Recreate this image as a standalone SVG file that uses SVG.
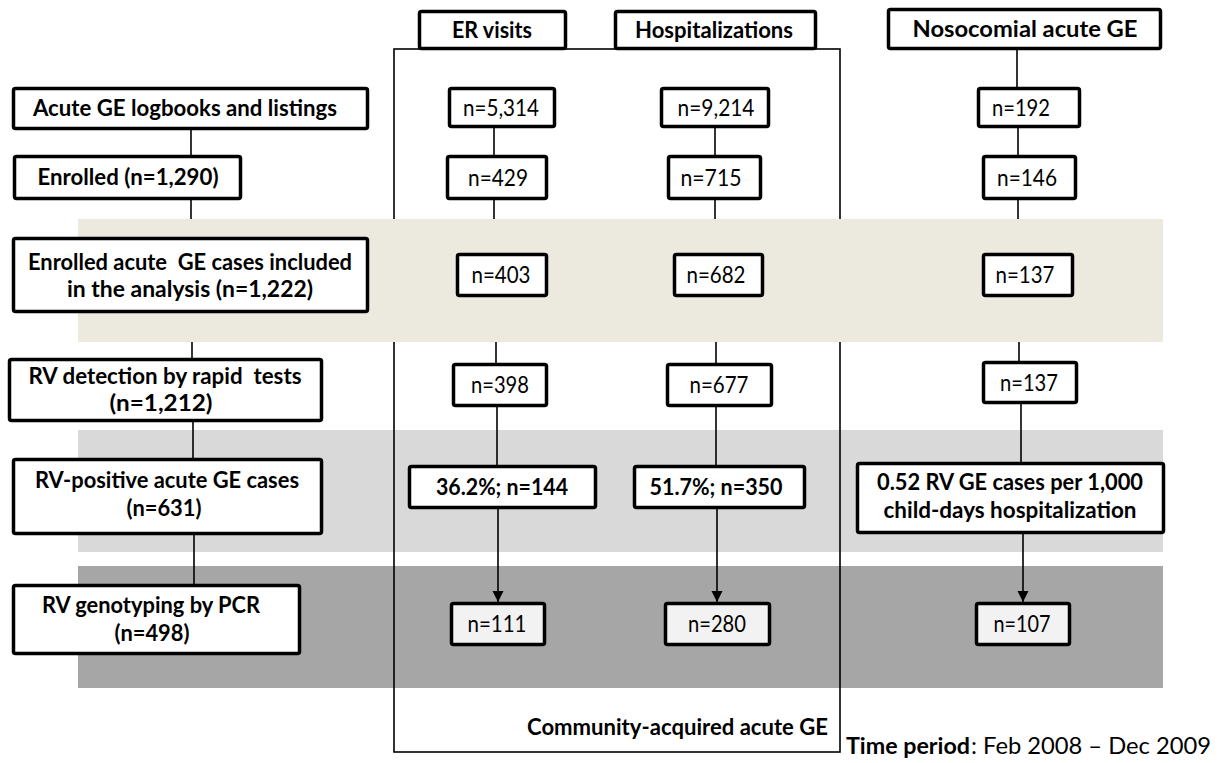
<svg xmlns="http://www.w3.org/2000/svg" width="1220" height="763" viewBox="0 0 1220 763">
<style>
.box{fill:#fff;stroke:#000;stroke-width:3.5}
.boxg{fill:#F2F2F2;stroke:#000;stroke-width:3.5}
.ln{stroke:#000;stroke-width:1.6;fill:none}
.b{font-family:Lato,"Open Sans",sans-serif;font-size:23px;font-weight:bold;fill:#000;text-anchor:middle}
.r{font-family:Lato,"Open Sans",sans-serif;font-size:23px;fill:#000;text-anchor:middle}
</style>
<defs>
<marker id="ah" markerWidth="12" markerHeight="12" refX="11" refY="6" orient="auto" markerUnits="userSpaceOnUse">
<path d="M0,0.5 L11,6 L0,11.5 z" fill="#000"/>
</marker>
</defs>
<rect x="0" y="0" width="1220" height="763" fill="#fff"/>
<g id="bands">
<rect x="78" y="430" width="1085" height="122" fill="#D9D9D9"/>
<rect x="78" y="566" width="1085" height="122" fill="#A6A6A6"/>
</g>
<g id="connectors">
<rect id="community-frame" x="394" y="49" width="446" height="703" class="ln"/>
<line x1="191" y1="130" x2="191" y2="155" class="ln"/>
<line x1="191" y1="200" x2="191" y2="237" class="ln"/>
<line x1="192" y1="313" x2="192" y2="358" class="ln"/>
<line x1="193" y1="422" x2="193" y2="458" class="ln"/>
<line x1="194" y1="535" x2="194" y2="584" class="ln"/>
<line x1="494" y1="128" x2="494" y2="155" class="ln"/>
<line x1="494" y1="200" x2="494" y2="253" class="ln"/>
<line x1="496" y1="297" x2="496" y2="363" class="ln"/>
<line x1="497" y1="407" x2="497" y2="465" class="ln"/>
<line x1="498" y1="509" x2="498" y2="602" class="ln" marker-end="url(#ah)"/>
<line x1="715" y1="128" x2="715" y2="155" class="ln"/>
<line x1="715" y1="200" x2="715" y2="253" class="ln"/>
<line x1="716" y1="297" x2="716" y2="363" class="ln"/>
<line x1="716" y1="407" x2="716" y2="465" class="ln"/>
<line x1="717" y1="509" x2="717" y2="602" class="ln" marker-end="url(#ah)"/>
<line x1="1017" y1="50" x2="1017" y2="87" class="ln"/>
<line x1="1018" y1="128" x2="1018" y2="155" class="ln"/>
<line x1="1018" y1="200" x2="1018" y2="253" class="ln"/>
<line x1="1019" y1="297" x2="1019" y2="361" class="ln"/>
<line x1="1021" y1="404" x2="1021" y2="462" class="ln"/>
<line x1="1023" y1="534" x2="1023" y2="602" class="ln" marker-end="url(#ah)"/>
</g>
<rect id="band-beige" x="78" y="219" width="1085" height="123" fill="#ECE9DF"/>
<g id="acute-logbooks"><rect x="13.5" y="88.5" width="354" height="40" rx="2" class="box"/><text x="185" y="116" class="b" textLength="304" lengthAdjust="spacingAndGlyphs">Acute GE logbooks and listings</text></g>
<g id="enrolled"><rect x="14.5" y="156.5" width="226" height="42" rx="2" class="box"/><text x="128" y="185" class="b" textLength="181" lengthAdjust="spacingAndGlyphs">Enrolled (n=1,290)</text></g>
<g id="enrolled-included"><rect x="13.5" y="238.5" width="354" height="73" rx="2" class="box"/><text x="190" y="270" class="b" textLength="324" lengthAdjust="spacingAndGlyphs" xml:space="preserve">Enrolled acute  GE cases included</text><text x="190" y="297" class="b" textLength="246" lengthAdjust="spacingAndGlyphs">in the analysis (n=1,222)</text></g>
<g id="rv-detection"><rect x="9.5" y="359.5" width="312" height="61" rx="2" class="box"/><text x="165" y="384" class="b" textLength="273" lengthAdjust="spacingAndGlyphs" xml:space="preserve">RV detection by rapid  tests</text><text x="161" y="411" class="b" textLength="103" lengthAdjust="spacingAndGlyphs">(n=1,212)</text></g>
<g id="rv-positive"><rect x="13.5" y="459.5" width="308" height="74" rx="2" class="box"/><text x="167" y="488" class="b" textLength="264" lengthAdjust="spacingAndGlyphs">RV-positive acute GE cases</text><text x="164" y="516" class="b" textLength="75" lengthAdjust="spacingAndGlyphs">(n=631)</text></g>
<g id="rv-genotyping"><rect x="13.5" y="585.5" width="286" height="68" rx="2" class="box"/><text x="151" y="613" class="b" textLength="218" lengthAdjust="spacingAndGlyphs">RV genotyping by PCR</text><text x="152" y="641" class="b" textLength="75" lengthAdjust="spacingAndGlyphs">(n=498)</text></g>
<g id="er-header"><rect x="419.5" y="11.5" width="146" height="37" rx="2" class="box"/><text x="492" y="38" class="b" textLength="80" lengthAdjust="spacingAndGlyphs">ER visits</text></g>
<g id="hosp-header"><rect x="615.5" y="11.5" width="200" height="37" rx="2" class="box"/><text x="714" y="38" class="b" textLength="158" lengthAdjust="spacingAndGlyphs">Hospitalizations</text></g>
<g id="noso-header"><rect x="888.5" y="9.5" width="272" height="39" rx="2" class="box"/><text x="1025" y="37" class="b" textLength="225" lengthAdjust="spacingAndGlyphs">Nosocomial acute GE</text></g>
<g id="er-5314"><rect x="449.5" y="88.5" width="105" height="38" rx="2" class="box"/><text x="501" y="116" class="r" textLength="76" lengthAdjust="spacingAndGlyphs">n=5,314</text></g>
<g id="hosp-9214"><rect x="661.5" y="88.5" width="107" height="38" rx="2" class="box"/><text x="716" y="116" class="r" textLength="77" lengthAdjust="spacingAndGlyphs">n=9,214</text></g>
<g id="noso-192"><rect x="978.5" y="88.5" width="101" height="38" rx="2" class="box"/><text x="1021" y="116" class="r" textLength="58" lengthAdjust="spacingAndGlyphs">n=192</text></g>
<g id="er-429"><rect x="447.5" y="156.5" width="99" height="42" rx="2" class="box"/><text x="498" y="186" class="r" textLength="60" lengthAdjust="spacingAndGlyphs">n=429</text></g>
<g id="hosp-715"><rect x="668.5" y="156.5" width="92" height="42" rx="2" class="box"/><text x="711" y="186" class="r" textLength="61" lengthAdjust="spacingAndGlyphs">n=715</text></g>
<g id="noso-146"><rect x="983.5" y="156.5" width="92" height="42" rx="2" class="box"/><text x="1027" y="186" class="r" textLength="60" lengthAdjust="spacingAndGlyphs">n=146</text></g>
<g id="er-403"><rect x="457.5" y="254.5" width="89" height="41" rx="2" class="box"/><text x="501" y="283" class="r" textLength="59" lengthAdjust="spacingAndGlyphs">n=403</text></g>
<g id="hosp-682"><rect x="674.5" y="254.5" width="88" height="41" rx="2" class="box"/><text x="716" y="283" class="r" textLength="59" lengthAdjust="spacingAndGlyphs">n=682</text></g>
<g id="noso-137a"><rect x="983.5" y="254.5" width="89" height="41" rx="2" class="box"/><text x="1025" y="283" class="r" textLength="59" lengthAdjust="spacingAndGlyphs">n=137</text></g>
<g id="er-398"><rect x="453.5" y="364.5" width="93" height="41" rx="2" class="box"/><text x="500" y="393" class="r" textLength="58" lengthAdjust="spacingAndGlyphs">n=398</text></g>
<g id="hosp-677"><rect x="667.5" y="364.5" width="104" height="41" rx="2" class="box"/><text x="719" y="393" class="r" textLength="59" lengthAdjust="spacingAndGlyphs">n=677</text></g>
<g id="noso-137b"><rect x="983.5" y="362.5" width="93" height="40" rx="2" class="box"/><text x="1029" y="391" class="r" textLength="58" lengthAdjust="spacingAndGlyphs">n=137</text></g>
<g id="er-144"><rect x="409.5" y="466.5" width="186" height="41" rx="2" class="box"/><text x="502" y="495" class="b" textLength="132" lengthAdjust="spacingAndGlyphs">36.2%; n=144</text></g>
<g id="hosp-350"><rect x="634.5" y="466.5" width="170" height="41" rx="2" class="box"/><text x="716" y="495" class="b" textLength="133" lengthAdjust="spacingAndGlyphs">51.7%; n=350</text></g>
<g id="noso-rate"><rect x="857.5" y="463.5" width="306" height="69" rx="2" class="box"/><text x="1010" y="490" class="b" textLength="266" lengthAdjust="spacingAndGlyphs">0.52 RV GE cases per 1,000</text><text x="1010" y="518" class="b" textLength="253" lengthAdjust="spacingAndGlyphs">child-days hospitalization</text></g>
<g id="er-111"><rect x="451.5" y="603.5" width="93" height="41" rx="2" class="boxg"/><text x="497" y="632" class="r" textLength="59" lengthAdjust="spacingAndGlyphs">n=111</text></g>
<g id="hosp-280"><rect x="665.5" y="603.5" width="104" height="41" rx="2" class="boxg"/><text x="717" y="632" class="r" textLength="58" lengthAdjust="spacingAndGlyphs">n=280</text></g>
<g id="noso-107"><rect x="976.5" y="603.5" width="93" height="41" rx="2" class="boxg"/><text x="1022" y="632" class="r" textLength="57" lengthAdjust="spacingAndGlyphs">n=107</text></g>
<g id="labels">
<text x="677.5" y="735" class="b" textLength="301" lengthAdjust="spacingAndGlyphs">Community-acquired acute GE</text>
<text x="846" y="754" class="b" style="text-anchor:start" textLength="124" lengthAdjust="spacingAndGlyphs">Time period</text>
<text x="971" y="754" class="r" style="text-anchor:start" textLength="240" lengthAdjust="spacingAndGlyphs">: Feb 2008 – Dec 2009</text>
</g>
</svg>
